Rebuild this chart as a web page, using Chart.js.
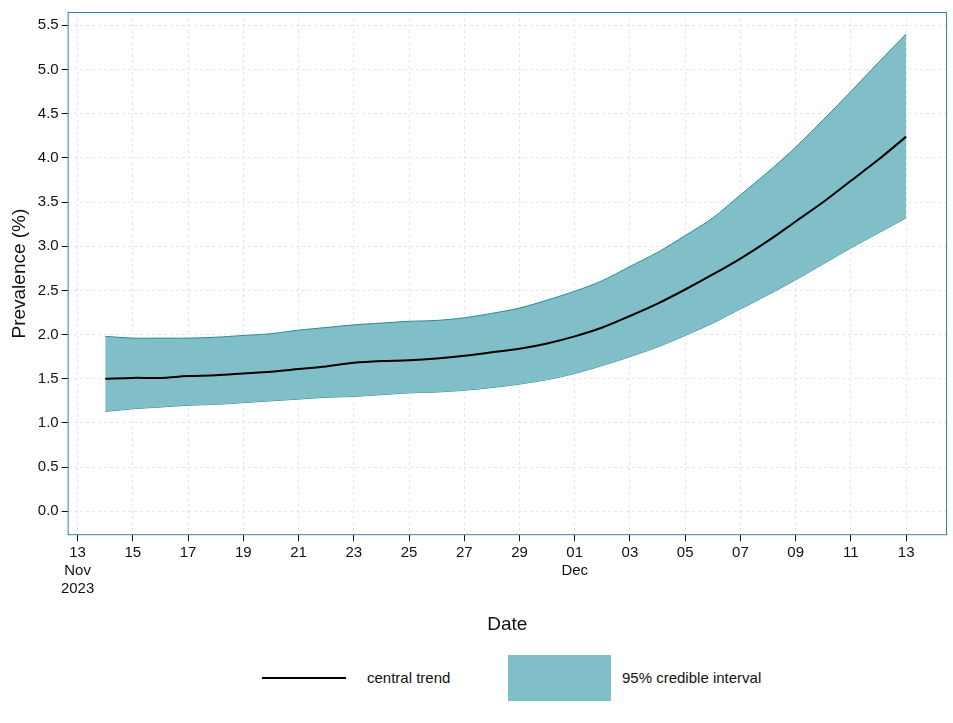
<!DOCTYPE html>
<html><head><meta charset="utf-8">
<script src="https://cdn.jsdelivr.net/npm/chart.js@4"></script>
<style>
body{margin:0;background:#fff;font-family:"Liberation Sans",sans-serif;}
#wrap{position:relative;width:953px;height:640px;}
#legend{position:absolute;top:655px;left:0;width:953px;height:46px;font-size:15px;color:#111;}
.ln{position:absolute;left:262px;top:22px;width:84px;height:2px;background:#000;}
.t1{position:absolute;left:367px;top:14px;}
.bx{position:absolute;left:508px;top:0;width:103px;height:46px;background:#80bec8;}
.t2{position:absolute;left:622px;top:14px;}
</style></head><body>
<div id="wrap"><canvas id="c" width="953" height="640"></canvas></div>
<div id="legend"><div class="ln"></div><div class="t1">central trend</div><div class="bx"></div><div class="t2">95% credible interval</div></div>
<script>
// day index 0 = 13 Nov 2023
let dayLabels = [["13","Nov","2023"],"14","15","16","17","18","19","20","21","22","23","24","25","26","27","28","29","30",["01","Dec"],"02","03","04","05","06","07","08","09","10","11","12","13"];
let central = [1.50,1.51,1.51,1.53,1.54,1.56,1.58,1.61,1.64,1.68,1.70,1.71,1.73,1.76,1.80,1.84,1.90,1.98,2.08,2.21,2.35,2.51,2.68,2.86,3.06,3.28,3.50,3.74,3.98,4.24];
let upper = [1.98,1.96,1.96,1.96,1.97,1.99,2.01,2.05,2.08,2.11,2.13,2.15,2.16,2.19,2.24,2.30,2.39,2.49,2.61,2.77,2.93,3.12,3.32,3.58,3.84,4.12,4.43,4.75,5.08,5.40];
let lower = [1.13,1.16,1.18,1.20,1.21,1.23,1.25,1.27,1.29,1.30,1.32,1.34,1.35,1.37,1.40,1.44,1.49,1.56,1.65,1.75,1.86,1.99,2.13,2.29,2.45,2.62,2.80,2.98,3.15,3.32];

function pts(arr){ return arr.map((v,i)=>({x:i+1,y:v})); }

let borderBox = {
  id:'borderBox',
  afterDraw(chart){
    let a = chart.chartArea, ctx = chart.ctx;
    ctx.save(); ctx.strokeStyle='#2a8a98'; ctx.lineWidth=1;
    ctx.strokeRect(a.left+0.5,a.top+0.5,a.width-1,a.height-1); ctx.restore();
  }
};

new Chart(document.getElementById('c'), {
  type:'line',
  data:{datasets:[
    {data:pts(central),borderColor:'#000',borderWidth:2,pointRadius:0,fill:false,tension:0.3,order:0},
    {data:pts(upper),borderColor:'#2a8a98',borderWidth:1,backgroundColor:'#80bec8',pointRadius:0,fill:'+1',tension:0.3,order:1},
    {data:pts(lower),borderColor:'#2a8a98',borderWidth:1,pointRadius:0,fill:false,tension:0.3,order:1}
  ]},
  plugins:[borderBox],
  options:{
    responsive:false, animation:false, devicePixelRatio:1,
    layout:{padding:{left:4,right:6,top:10,bottom:0}},
    plugins:{legend:{display:false},tooltip:{enabled:false}},
    scales:{
      x:{type:'linear',min:-0.36,max:31.48,
        afterBuildTicks(ax){ let t=[]; for(let i=0;i<=30;i+=2) t.push({value:i}); ax.ticks=t; },
        ticks:{autoSkip:false,maxRotation:0,color:'#111',font:{size:15,family:'Liberation Sans'},callback:v=>dayLabels[v]},
        grid:{color:'#e6e6e6',tickColor:'#111',tickLength:6},
        border:{display:false,dash:[3,3]},
        title:{display:true,text:'Date',color:'#111',font:{size:19,family:'Liberation Sans'},padding:{top:12}}},
      y:{min:-0.27,max:5.65,
        afterBuildTicks(ax){ let t=[]; for(let i=0;i<=11;i++) t.push({value:i*0.5}); ax.ticks=t; },
        ticks:{color:'#111',font:{size:15,family:'Liberation Sans'},callback:v=>v.toFixed(1)},
        grid:{color:'#e6e6e6',tickColor:'#111',tickLength:6},
        border:{display:false,dash:[3,3]},
        title:{display:true,text:'Prevalence (%)',color:'#111',font:{size:19,family:'Liberation Sans'}}}
    }
  }
});
</script>
</body></html>
